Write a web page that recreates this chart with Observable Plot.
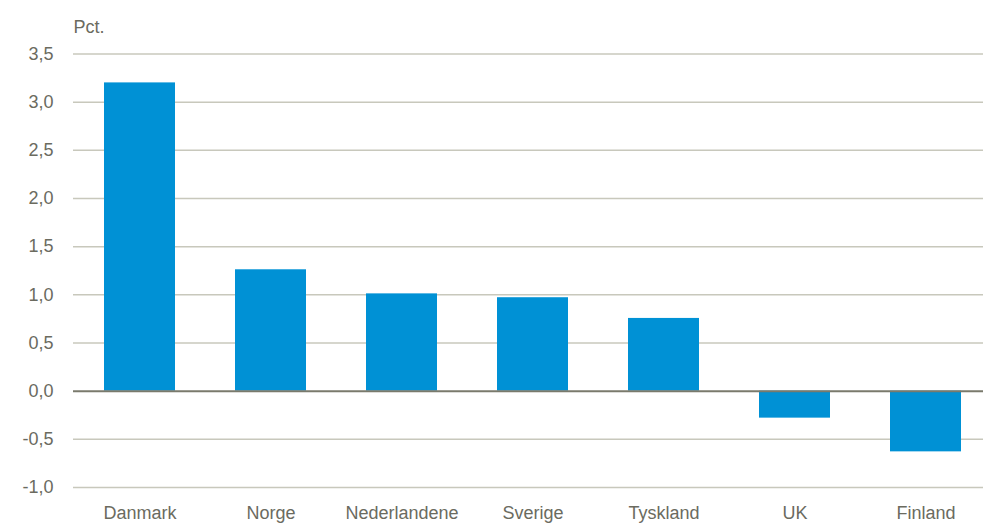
<!DOCTYPE html>
<html>
<head>
<meta charset="utf-8">
<script src="https://cdn.jsdelivr.net/npm/d3@7"></script>
<script src="https://cdn.jsdelivr.net/npm/@observablehq/plot@0.6"></script>
<style>
  html, body { margin: 0; padding: 0; background: #fff; }
  #chart svg { display: block; }
</style>
</head>
<body>
<div id="chart"></div>
<script>
const countries = ["Danmark", "Norge", "Nederlandene", "Sverige", "Tyskland", "UK", "Finland"];
const values = [3.2, 1.26, 1.01, 0.97, 0.755, -0.28, -0.63];
const yTicks = [-1.0, -0.5, 0.0, 0.5, 1.0, 1.5, 2.0, 2.5, 3.0, 3.5];
const unitLabel = "Pct.";

const data = countries.map((c, i) => ({country: c, value: values[i]}));
const textColor = "#6b6b5f";

const chart = Plot.plot({
  width: 983,
  height: 524,
  marginLeft: 73,
  marginRight: 0,
  marginTop: 53.5,
  marginBottom: 37,
  style: {fontFamily: "'Liberation Sans', Arial, sans-serif", fontSize: "18px", color: textColor, background: "#fff"},
  x: {domain: countries, range: [73, 991.7], paddingInner: 0.455, paddingOuter: 0.229, label: null, tickSize: 0, tickPadding: 19},
  y: {domain: [-1, 3.5], ticks: yTicks, label: null, tickSize: 0, tickPadding: 20,
      tickFormat: d => d.toFixed(1).replace(".", ",")},
  marks: [
    Plot.ruleY(yTicks.filter(d => d !== 0), {stroke: "#c8c8bc", strokeWidth: 1.5}),
    Plot.barY(data, {x: "country", y: "value", fill: "#0091d5"}),
    Plot.ruleY([0], {stroke: "#7a7a6c", strokeWidth: 2}),
    Plot.text([unitLabel], {frameAnchor: "top-left", textAnchor: "start", lineAnchor: "bottom", dy: -21, fill: textColor, fontSize: 18})
  ]
});
document.getElementById("chart").appendChild(chart);
</script>
</body>
</html>
